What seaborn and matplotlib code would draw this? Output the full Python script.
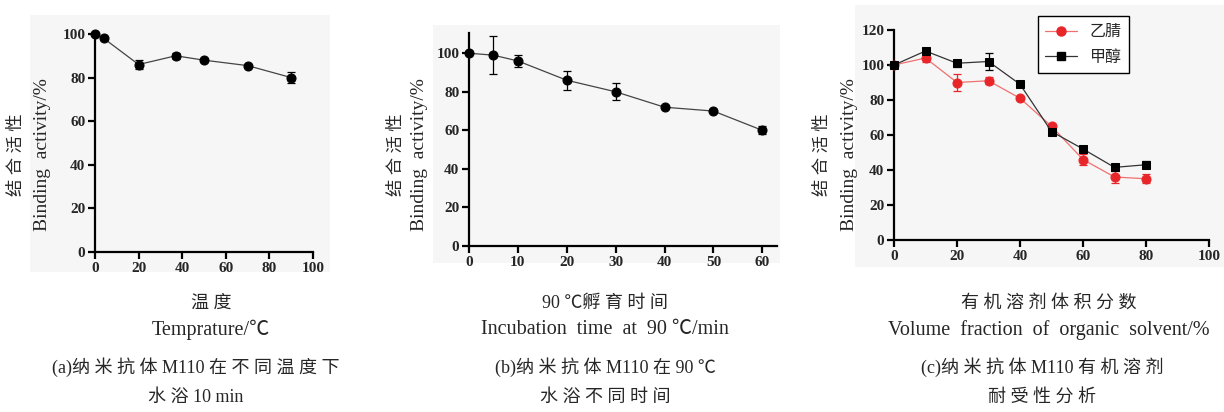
import matplotlib
matplotlib.use('Agg')
import matplotlib.pyplot as plt
import matplotlib.patches as mpatches
import seaborn as sns
import pandas as pd

# ---- 数据 ----
temp_x = [0, 4, 20, 37, 50, 70, 90]
temp_y = [100, 98, 86, 90, 88, 85.5, 80]
temp_err = [0, 0, 2, 1.5, 0, 0, 2.5]

time_x = [0, 5, 10, 20, 30, 40, 50, 60]
time_y = [100, 99, 96, 86, 80, 72, 70, 60]
time_err = [0, 10, 3, 5, 4.5, 0, 0, 2]

solv_x = [0, 10, 20, 30, 40, 50, 60, 70, 80]
acn_y = [100, 104, 90, 91, 81, 65, 46, 36, 35]
acn_err = [0, 2.5, 5, 2, 0, 0, 3, 3.5, 2.5]
meoh_y = [100, 108, 101, 102, 89, 62, 52, 41.5, 43]
meoh_err = [0, 0, 2, 5, 0, 0, 0, 0, 2]
series_names = ['乙腈', '甲醇']

# ---- 样式 ----
sns.set_theme(style='ticks')
FONTS = ['Liberation Serif', 'Noto Sans CJK SC', 'DejaVu Sans']
plt.rcParams['font.family'] = FONTS
plt.rcParams['axes.unicode_minus'] = False

W, H = 1224, 412
fig = plt.figure(figsize=(W / 100, H / 100), dpi=100)
fig.patch.set_facecolor('white')


def px_rect(x0, y0, x1, y1):
    return [x0 / W, 1 - y1 / H, (x1 - x0) / W, (y1 - y0) / H]


def spaced(s):
    # 汉字之间加空格, 模仿原图的字距
    out = ''
    for i, ch in enumerate(s):
        out += ch
        if i + 1 < len(s) and ord(ch) > 0x2e80 and ord(s[i + 1]) > 0x2e80:
            out += ' '
    return out


def ftext(x, y, s, size, rot=0):
    fig.text(x / W, 1 - y / H, s, ha='center', va='center', fontsize=size,
             family=FONTS, rotation=rot, rotation_mode='anchor')


# 浅灰色底
for x0, y0, x1, y1 in [(30, 15, 330, 272), (433, 25, 780, 263), (855, 5, 1224, 267)]:
    fig.patches.append(mpatches.Rectangle((x0 / W, 1 - y1 / H), (x1 - x0) / W, (y1 - y0) / H,
                                          transform=fig.transFigure, facecolor='#f6f6f6',
                                          edgecolor='none', zorder=-10))


def style_ax(ax, xlim, ylim, xticks, yticks):
    ax.set_facecolor('none')
    ax.set_xlim(*xlim)
    ax.set_ylim(*ylim)
    ax.set_xticks(xticks)
    ax.set_yticks(yticks)
    sns.despine(ax=ax)
    for s in ['left', 'bottom']:
        ax.spines[s].set_linewidth(1.6)
        ax.spines[s].set_color('black')
    ax.tick_params(direction='out', length=5, width=1.6, color='black', pad=2)
    for lab in ax.get_xticklabels() + ax.get_yticklabels():
        lab.set_fontweight('bold')
        lab.set_fontsize(11)
        lab.set_family(FONTS)
    ax.set_xlabel('')
    ax.set_ylabel('')


def draw(ax, x, y, err, color, line_color, marker, ms):
    df = pd.DataFrame({'x': x, 'y': y})
    sns.lineplot(data=df, x='x', y='y', ax=ax, color=line_color, linewidth=0.9,
                 marker=marker, markersize=ms, markerfacecolor=color,
                 markeredgecolor=color, clip_on=False, zorder=3)
    ax.errorbar(x, y, yerr=err, fmt='none', ecolor=color, elinewidth=0.9,
                capsize=3, capthick=0.9, zorder=2, clip_on=False)


# (a)
ax1 = fig.add_axes(px_rect(95, 34, 313, 252))
draw(ax1, temp_x, temp_y, temp_err, 'black', '#444444', 'o', 6.5)
style_ax(ax1, (0, 100), (0, 100), range(0, 101, 20), range(0, 101, 20))

# (b)
ax2 = fig.add_axes(px_rect(469, 33, 777, 246))
draw(ax2, time_x, time_y, time_err, 'black', '#444444', 'o', 6.5)
style_ax(ax2, (0, 63), (0, 110.5), range(0, 61, 10), range(0, 101, 20))

# (c)
ax3 = fig.add_axes(px_rect(894, 30, 1209, 240))
draw(ax3, solv_x, acn_y, acn_err, '#e8262a', '#f07070', 'o', 6.5)
draw(ax3, solv_x, meoh_y, meoh_err, 'black', '#333333', 's', 6)
style_ax(ax3, (0, 100), (0, 120), range(0, 101, 20), range(0, 121, 20))
handles = [
    plt.Line2D([], [], color='#f07070', lw=0.9, marker='o', ms=6.5,
               markerfacecolor='#e8262a', markeredgecolor='#e8262a'),
    plt.Line2D([], [], color='#333333', lw=0.9, marker='s', ms=6,
               markerfacecolor='black', markeredgecolor='black'),
]
leg = ax3.legend(handles, series_names, loc='upper left',
                 bbox_to_anchor=(1038 / W, 1 - 16 / H), bbox_transform=fig.transFigure,
                 frameon=True, fancybox=False, edgecolor='black', framealpha=1,
                 prop={'family': ['Noto Sans CJK SC'], 'size': 11.5},
                 handlelength=2.0, borderpad=0.45, labelspacing=0.55, borderaxespad=0)
leg.get_frame().set_linewidth(1.0)

# ---- 纵轴标题 ----
for cx_cn, cx_en in [(17, 43), (397, 420), (823, 850)]:
    ftext(cx_cn, 155, spaced('结合活性'), 12.5, rot=90)
    ftext(cx_en, 155, 'Binding  activity/%', 14, rot=90)

# ---- 底部说明文字 ----
captions = [
    (211, '温度', 'Temprature/℃'),
    (605, '90 ℃孵育时间', 'Incubation  time  at  90 ℃/min'),
    (1049, '有机溶剂体积分数', 'Volume  fraction  of  organic  solvent/%'),
]
for cx, l1, l2 in captions:
    ftext(cx, 303, spaced(l1), 13)
    ftext(cx, 330, l2, 14.5)

subcaps = [
    (196, '(a)纳米抗体 M110 在不同温度下', '水浴 10 min'),
    (605, '(b)纳米抗体 M110 在 90 ℃', '水浴不同时间'),
    (1042, '(c)纳米抗体 M110 有机溶剂', '耐受性分析'),
]
for cx, l1, l2 in subcaps:
    ftext(cx, 367, spaced(l1), 13)
    ftext(cx, 397, spaced(l2), 13)

fig.savefig('out.png', dpi=100, facecolor='white')
